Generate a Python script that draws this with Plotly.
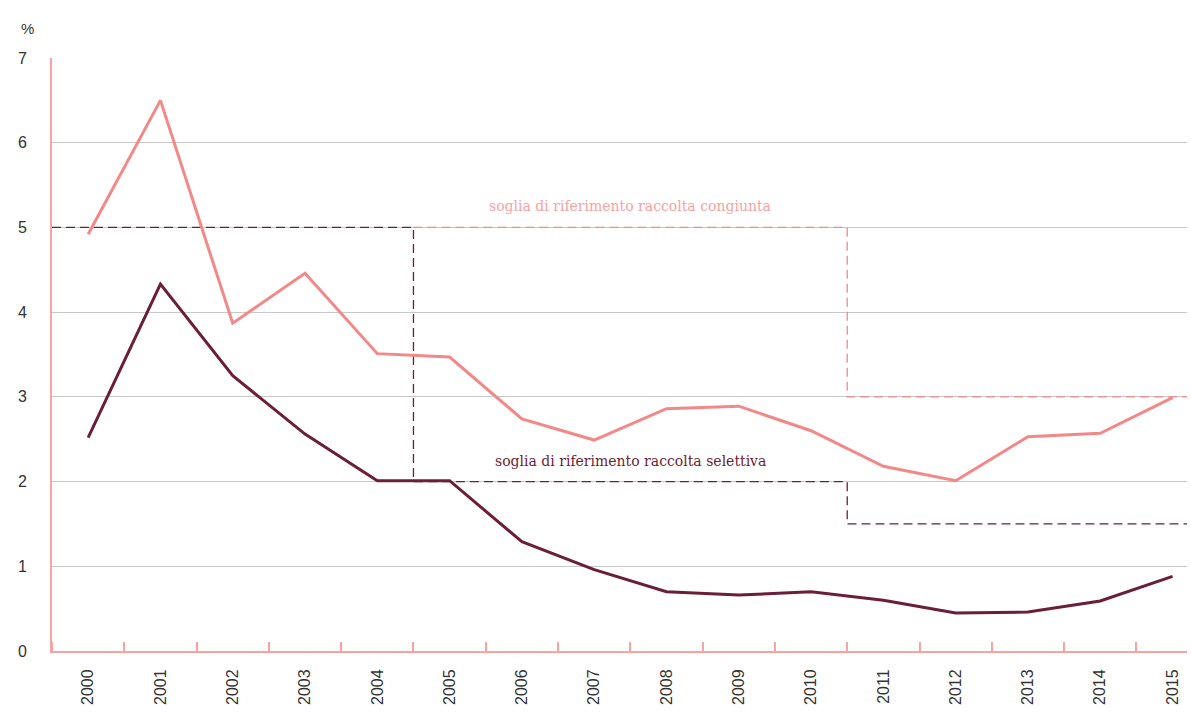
import plotly.graph_objects as go

years = [str(y) for y in range(2000, 2016)]
congiunta = [4.92, 6.5, 3.87, 4.46, 3.51, 3.47, 2.74, 2.49, 2.86, 2.89, 2.60, 2.18, 2.01, 2.53, 2.57, 2.99]
selettiva = [2.52, 4.33, 3.25, 2.56, 2.01, 2.01, 1.29, 0.96, 0.70, 0.66, 0.70, 0.60, 0.45, 0.46, 0.59, 0.88]

# threshold steps (x in category index units, boundaries between years)
soglia_sel_x = [-0.5, 4.5, 10.5, 15.5]
soglia_sel_y = [5, 2, 1.5, 1.5]
soglia_cong_x = [4.5, 10.5, 15.5]
soglia_cong_y = [5, 3, 3]

y_ticks = [0, 1, 2, 3, 4, 5, 6, 7]

PINK = "#f28888"
PINK_LIGHT = "#f5a3a3"
DARK = "#6b1e38"

fig = go.Figure()

fig.add_trace(go.Scatter(x=soglia_cong_x, y=soglia_cong_y, mode="lines", line_shape="hv",
                         line=dict(color=PINK, width=1.3, dash="9px,5px"), hoverinfo="skip"))
fig.add_trace(go.Scatter(x=soglia_sel_x, y=soglia_sel_y, mode="lines", line_shape="hv",
                         line=dict(color=DARK, width=1.3, dash="9px,5px"), hoverinfo="skip"))

fig.add_trace(go.Scatter(x=list(range(len(years))), y=congiunta, mode="lines",
                         line=dict(color=PINK, width=3)))
fig.add_trace(go.Scatter(x=list(range(len(years))), y=selettiva, mode="lines",
                         line=dict(color=DARK, width=3)))

fig.add_annotation(x=7.5, y=5.25, text="soglia di riferimento raccolta congiunta", showarrow=False,
                   font=dict(family="DejaVu Serif", size=14, color=PINK_LIGHT))
fig.add_annotation(x=7.5, y=2.24, text="soglia di riferimento raccolta selettiva", showarrow=False,
                   font=dict(family="DejaVu Serif", size=14, color=DARK))
fig.add_annotation(xref="paper", yref="paper", x=0, y=1, xshift=-33, yshift=40, text="%",
                   showarrow=False, font=dict(family="Liberation Sans", size=15, color="#333"))

fig.update_layout(
    width=1191, height=720,
    margin=dict(l=52, r=4, t=58, b=69),
    paper_bgcolor="white", plot_bgcolor="white",
    showlegend=False,
    font=dict(family="Liberation Sans", size=16, color="#333"),
)
fig.update_xaxes(
    range=[-0.5, 15.2], automargin=False,
    tickvals=list(range(len(years))), ticktext=years,
    tickangle=-90, ticks="", showgrid=False, zeroline=False,
    showline=True, linecolor=PINK_LIGHT, linewidth=2,
    ticklabelstandoff=10,
    minor=dict(tick0=0.5, dtick=1, ticks="inside", ticklen=9, tickcolor=PINK_LIGHT, tickwidth=2, showgrid=False),
)
fig.update_yaxes(
    range=[0, 7], automargin=False, tickvals=y_ticks, showgrid=True, gridcolor="#c8c8c8", gridwidth=1.3,
    zeroline=False, showline=True, linecolor=PINK_LIGHT, linewidth=2,
    ticks="", ticklabelstandoff=20,
)

fig.write_html("out.html", config={"displayModeBar": False},
               post_script="document.body.style.margin='0';")
